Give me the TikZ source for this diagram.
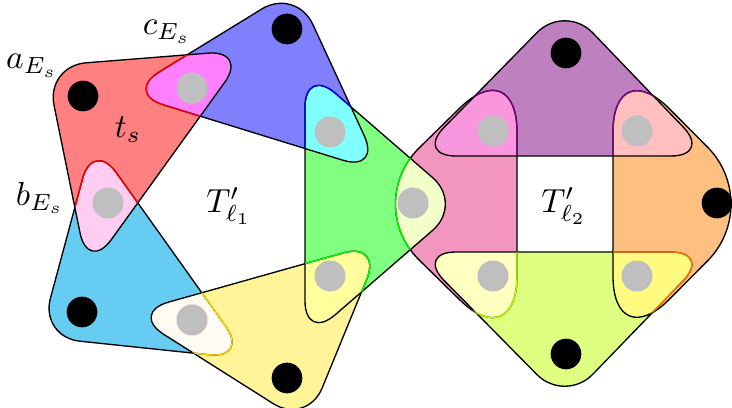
\documentclass[tikz,border=0pt]{standalone}

\definecolor{redE}{RGB}{255,128,128}
\definecolor{blueE}{RGB}{128,128,255}
\definecolor{greenE}{RGB}{128,255,128}
\definecolor{yellowE}{RGB}{255,245,152}
\definecolor{skyE}{RGB}{102,204,242}
\definecolor{violetE}{RGB}{191,128,191}
\definecolor{pinkE}{RGB}{242,150,192}
\definecolor{orangeE}{RGB}{255,191,128}
\definecolor{limeE}{RGB}{223,255,128}

\definecolor{redblue}{RGB}{255,128,255}
\definecolor{redsky}{RGB}{255,204,242}
\definecolor{bluegreen}{RGB}{128,255,255}
\definecolor{greenyellow}{RGB}{255,255,155}
\definecolor{yellowsky}{RGB}{255,250,242}
\definecolor{greenpink}{RGB}{242,255,200}
\definecolor{violetpink}{RGB}{248,150,222}
\definecolor{violetorange}{RGB}{255,191,191}
\definecolor{limepink}{RGB}{255,255,192}
\definecolor{orangelime}{RGB}{255,250,128}
\definecolor{rimYellow}{RGB}{255,225,0}

% hyperedges (corner points, drawn with rounded corners)
\newcommand{\hedgeRed}{(46,66) -- (248,50) -- (88,272) -- cycle}
\newcommand{\hedgeBlue}{(296,-12) -- (381,172) -- (125,93) -- cycle}
\newcommand{\hedgeGreen}{(305,67) -- (463,204) -- (305,341) -- cycle}
\newcommand{\hedgeYellow}{(382,242) -- (307,425) -- (130,313) -- cycle}
\newcommand{\hedgeSky}{(93,140) -- (249,359) -- (40,337) -- cycle}
\newcommand{\hedgeViolet}{(565,4) -- (711,156) -- (416,156) -- cycle}
\newcommand{\hedgePink}{[rounded corners=24pt] (517,52) -- (517,356) -- (362,204) -- cycle}
\newcommand{\hedgeOrange}{[rounded corners=24pt] (613,52) -- (764,204) -- (613,356) -- cycle}
\newcommand{\hedgeLime}{(416,252) -- (711,252) -- (565,403) -- cycle}

\begin{document}
\begin{tikzpicture}[
    x=0.3pt, y=-0.3pt,
    hedge/.style={rounded corners=12pt},
    shared/.style={circle, fill=lightgray, inner sep=0pt, minimum size=9.3pt},
    own/.style={circle, fill=black, inner sep=0pt, minimum size=9.2pt}
]
    \useasboundingbox (0,0) rectangle (732,408);

    % Hyperedges
    \foreach \hyp/\col in {\hedgeRed/redE, \hedgeBlue/blueE, \hedgeGreen/greenE,
        \hedgeYellow/yellowE, \hedgeSky/skyE, \hedgeViolet/violetE,
        \hedgePink/pinkE, \hedgeOrange/orangeE, \hedgeLime/limeE} {
        \fill[hedge, \col] \hyp;
    }

    % Overlaps
    \foreach \outer/\inner/\tint in {\hedgeRed/\hedgeBlue/redblue,
        \hedgeRed/\hedgeSky/redsky, \hedgeBlue/\hedgeGreen/bluegreen,
        \hedgeGreen/\hedgeYellow/greenyellow, \hedgeYellow/\hedgeSky/yellowsky,
        \hedgeGreen/\hedgePink/greenpink, \hedgeViolet/\hedgePink/violetpink,
        \hedgeViolet/\hedgeOrange/violetorange, \hedgeLime/\hedgePink/limepink,
        \hedgeOrange/\hedgeLime/orangelime} {
        \begin{scope}
            \clip[hedge] \outer;
            \fill[hedge, \tint] \inner;
        \end{scope}
    }

    % Outlines
    \foreach \hyp in {\hedgeRed, \hedgeBlue, \hedgeGreen, \hedgeYellow, \hedgeSky,
        \hedgeViolet, \hedgePink, \hedgeOrange, \hedgeLime} {
        \draw[hedge] \hyp;
    }
    \foreach \outer/\inner/\rimcol in {\hedgeRed/\hedgeBlue/red,
        \hedgeRed/\hedgeSky/red, \hedgeBlue/\hedgeGreen/blue,
        \hedgeGreen/\hedgeYellow/green, \hedgeYellow/\hedgeSky/rimYellow,
        \hedgeGreen/\hedgePink/green, \hedgeViolet/\hedgePink/violet,
        \hedgeViolet/\hedgeOrange/violet, \hedgeLime/\hedgePink/lime,
        \hedgeOrange/\hedgeLime/orange} {
        \begin{scope}
            \clip[hedge] \outer;
            \draw[hedge, \rimcol] \inner;
        \end{scope}
    }

    % Vertices
    \foreach \n/\x/\y in {va/83/96, vc/287/29, vd/287/378, ve/82/312,
        vp/566/53, vq/717/203, vr/566/354} {
        \node[own] (\n) at (\x,\y) {};
    }
    \foreach \n/\x/\y in {vb/108/203, g1/192/88, g2/330/132, g3/413/203,
        g4/330/276, g5/192/320, h1/493/131, h2/637/131, h3/637/276, h4/493/276} {
        \node[shared] (\n) at (\x,\y) {};
    }

    % Labels
    \node (la) at (32,66) {$a_{E_s}$};
    \node (lb) at (40,198) {$b_{E_s}$};
    \node (lc) at (167,32) {$c_{E_s}$};
    \node (lt) at (128,130) {$t_s$};
    \node (l1) at (229,206) {$T'_{\ell_1}$};
    \node (l2) at (564,206) {$T'_{\ell_2}$};
\end{tikzpicture}
\end{document}
